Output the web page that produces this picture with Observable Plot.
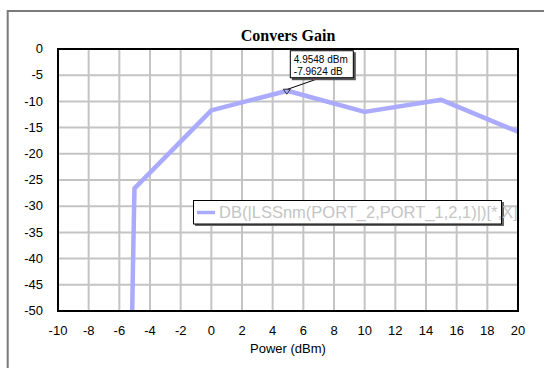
<!DOCTYPE html>
<html><head><meta charset="utf-8">
<script src="https://cdn.jsdelivr.net/npm/d3@7"></script>
<script src="https://cdn.jsdelivr.net/npm/@observablehq/plot@0.6"></script>
<style>
html,body{margin:0;padding:0;background:#fff;}
#chart{position:relative;width:544px;height:368px;overflow:hidden;}
svg{overflow:visible;}
</style></head><body><div id="chart"></div>
<script>
// ---- data ----
const power = [-5.16, -5.12, -5.05, -5.01, 0, 4.9548, 10, 15, 20];
const gain  = [-50, -43, -32, -26.6, -11.7, -7.9624, -12, -9.7, -15.8];
const xTicks = [-10, -8, -6, -4, -2, 0, 2, 4, 6, 8, 10, 12, 14, 16, 18, 20];
const yTicks = [0, -5, -10, -15, -20, -25, -30, -35, -40, -45, -50];
const title = "Convers Gain";
const xLabel = "Power (dBm)";
const legendLabel = "DB(|LSSnm(PORT_2,PORT_1,2,1)|)[*,X]";
const markerX = 4.9548;
const markerY = -7.9624;
const markerLines = ["4.9548 dBm", "-7.9624 dB"];

const data = power.map((p, i) => ({p, g: gain[i]}));
const FONT = "Arial, 'Liberation Sans', Helvetica, sans-serif";
const LINE = "#aaaaff";

const plot = Plot.plot({
  width: 544, height: 368,
  marginLeft: 57.5, marginRight: 26.5, marginTop: 48.5, marginBottom: 57.5,
  style: {fontFamily: FONT, fontSize: "13px", color: "#000", background: "#fff"},
  x: {domain: [-10, 20]},
  y: {domain: [-50, 0]},
  marks: [
    Plot.gridX(xTicks, {stroke: "#c4c4c4", strokeWidth: 2, strokeOpacity: 1}),
    Plot.gridY(yTicks, {stroke: "#c4c4c4", strokeWidth: 2, strokeOpacity: 1}),
    Plot.line(data, {x: "p", y: "g", stroke: LINE, strokeWidth: 4.5, clip: true}),
    Plot.frame({stroke: "#000", strokeWidth: 2}),
    Plot.axisX(xTicks, {tickSize: 0, tickPadding: 15, label: null, fontSize: 13, tickFormat: d => String(d)}),
    Plot.axisY(yTicks, {tickSize: 0, tickPadding: 15, label: null, fontSize: 13, tickFormat: d => String(d)}),
    Plot.text([title], {frameAnchor: "top", lineAnchor: "middle", dy: -13, fontWeight: "bold",
      fontFamily: "'Liberation Serif', 'Times New Roman', serif", fontSize: 16}),
    Plot.text([xLabel], {frameAnchor: "bottom", lineAnchor: "middle", dy: 38, fontSize: 13})
  ]
});
document.getElementById("chart").appendChild(plot);

const svg = d3.select(plot);
const sx = plot.scale("x").apply(markerX);
const sy = plot.scale("y").apply(markerY);

// outer frame (top and left)
svg.append("path").attr("d", "M7.7,368 V11 H544").attr("fill", "none")
  .attr("stroke", "#7a7a7a").attr("stroke-width", 2);

// marker
const g = svg.append("g").attr("text-anchor", "start");
g.append("line").attr("x1", sx + 1).attr("y1", sy - 1).attr("x2", sx + 31).attr("y2", sy - 11.5)
  .attr("stroke", "#000").attr("stroke-width", 1);
g.append("path").attr("d", `M${sx-3.5},${sy-1} L${sx+3.5},${sy-1} L${sx},${sy+4} Z`)
  .attr("fill", "none").attr("stroke", "#333").attr("stroke-width", 1);
g.append("rect").attr("x", sx + 5).attr("y", sy - 38).attr("width", 64).attr("height", 28).attr("fill", "#555");
g.append("rect").attr("x", sx + 3.5).attr("y", sy - 39.5).attr("width", 63).attr("height", 27)
  .attr("fill", "#fff").attr("stroke", "#000").attr("stroke-width", 1);
markerLines.forEach((t, i) => {
  g.append("text").attr("x", sx + 7).attr("y", sy - 27 + i * 11.5).attr("text-anchor", "start")
    .attr("font-family", FONT).attr("font-size", 10).attr("fill", "#000").text(t);
});

// legend
const lg = svg.append("g").attr("text-anchor", "start");
lg.append("rect").attr("x", 195).attr("y", 202).attr("width", 309).attr("height", 24).attr("fill", "#666");
lg.append("rect").attr("x", 193.5).attr("y", 200.5).attr("width", 308).attr("height", 23.5)
  .attr("fill", "#fff").attr("stroke", "#000").attr("stroke-width", 1);
lg.append("line").attr("x1", 197).attr("x2", 215).attr("y1", 212.5).attr("y2", 212.5)
  .attr("stroke", LINE).attr("stroke-width", 3.5);
lg.append("text").attr("x", 219).attr("y", 217.8).attr("text-anchor", "start")
  .attr("font-family", FONT).attr("font-size", 16.5)
  .attr("fill", "#c4c4c4").text(legendLabel);
</script></body></html>
